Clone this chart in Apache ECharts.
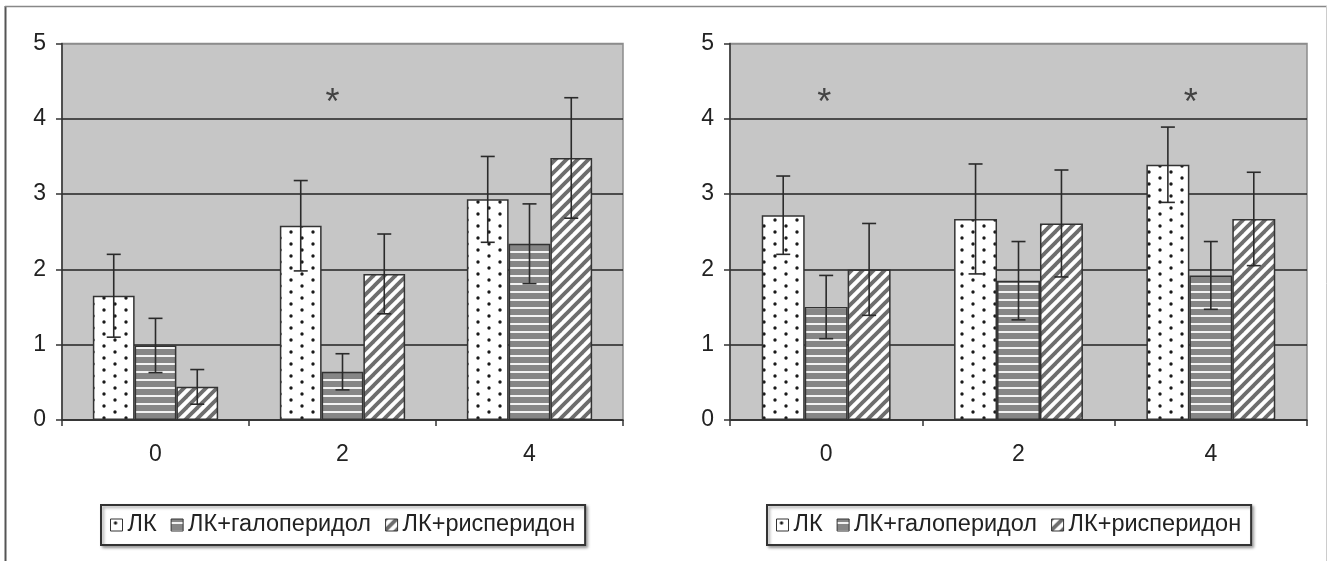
<!DOCTYPE html>
<html><head><meta charset="utf-8">
<script src="https://cdn.jsdelivr.net/npm/echarts@6/dist/echarts.min.js"></script>
<style>html,body{margin:0;padding:0;background:#fff}#c{width:1328px;height:561px}</style>
</head><body><div id="c"></div>
<script>
// ---------- data ----------
const categories = ['0', '2', '4'];
const seriesNames = ['ЛК', 'ЛК+галоперидол', 'ЛК+рисперидон'];
const yTicks = [0, 1, 2, 3, 4, 5];

// left panel
const leftLK = [1.65, 2.58, 2.93];
const leftHalo = [0.99, 0.64, 2.34];
const leftRisp = [0.44, 1.94, 3.48];
const leftLKErr = [0.55, 0.60, 0.57];
const leftHaloErr = [0.36, 0.24, 0.53];
const leftRispErr = [0.23, 0.53, 0.80];
const leftStars = [['2', 4.31]];

// right panel
const rightLK = [2.72, 2.67, 3.39];
const rightHalo = [1.50, 1.85, 1.92];
const rightRisp = [2.00, 2.61, 2.67];
const rightLKErr = [0.52, 0.73, 0.50];
const rightHaloErr = [0.42, 0.52, 0.45];
const rightRispErr = [0.61, 0.71, 0.62];
const rightStars = [['0', 4.31], ['4', 4.31]];

// ---------- styling ----------
const FONT = 'Liberation Sans, Arial, sans-serif';
const GAP = 0.33;
const leftStarShift = [-10];
const rightStarShift = [-2, -20];

function dotPattern() {
  const c = document.createElement('canvas'); c.width = 22; c.height = 12;
  const g = c.getContext('2d');
  g.fillStyle = '#fff'; g.fillRect(0, 0, 22, 12);
  g.fillStyle = '#1a1a1a';
  g.beginPath(); g.arc(5, 4, 1.7, 0, Math.PI * 2); g.fill();
  g.beginPath(); g.arc(16, 10, 1.7, 0, Math.PI * 2); g.fill();
  return c;
}
function hLinePattern() {
  const c = document.createElement('canvas'); c.width = 8; c.height = 8;
  const g = c.getContext('2d');
  g.fillStyle = '#868686'; g.fillRect(0, 0, 8, 8);
  g.fillStyle = '#f2f2f2'; g.fillRect(0, 3, 8, 2);
  return c;
}
function diagPattern() {
  const s = 11;
  const c = document.createElement('canvas'); c.width = s; c.height = s;
  const g = c.getContext('2d');
  g.fillStyle = '#fff'; g.fillRect(0, 0, s, s);
  g.strokeStyle = '#6e6e6e'; g.lineWidth = 3.8;
  for (const o of [-s, 0, s]) {
    g.beginPath(); g.moveTo(o - 2, s + 2); g.lineTo(o + s + 2, -2); g.stroke();
  }
  return c;
}
const fills = [
  { image: dotPattern(), repeat: 'repeat' },
  { image: hLinePattern(), repeat: 'repeat' },
  { image: diagPattern(), repeat: 'repeat' }
];

function barSeries(name, axis, vals, k) {
  return {
    type: 'bar', name, xAxisIndex: axis, yAxisIndex: axis, data: vals,
    barGap: '0%', barCategoryGap: (GAP * 100) + '%',
    itemStyle: { color: fills[k], borderColor: '#333', borderWidth: 1.5 },
    emphasis: { disabled: true }, z: 2
  };
}
function errSeries(axis, vals, errs, k) {
  return {
    type: 'custom', name: 'err' + axis + k, xAxisIndex: axis, yAxisIndex: axis, z: 10,
    encode: { x: 0, y: [1, 2] },
    data: vals.map((v, i) => [i, v - errs[i], v + errs[i]]),
    renderItem(params, api) {
      const band = api.size([1, 0])[0];
      const bw = band * (1 - GAP) / 3;
      const cx = api.coord([api.value(0), 0])[0] + (k - 1) * bw;
      const lo = api.coord([api.value(0), api.value(1)])[1];
      const hi = api.coord([api.value(0), api.value(2)])[1];
      const hw = 7;
      const st = { stroke: '#2a2a2a', lineWidth: 1.6 };
      return { type: 'group', children: [
        { type: 'line', shape: { x1: cx, y1: hi, x2: cx, y2: lo }, style: st },
        { type: 'line', shape: { x1: cx - hw, y1: hi, x2: cx + hw, y2: hi }, style: st },
        { type: 'line', shape: { x1: cx - hw, y1: lo, x2: cx + hw, y2: lo }, style: st }
      ] };
    }
  };
}
function starSeries(axis, stars, shifts) {
  return {
    type: 'scatter', xAxisIndex: axis, yAxisIndex: axis, symbolSize: 1,
    itemStyle: { color: 'rgba(0,0,0,0)' }, z: 12, silent: true,
    data: stars.map((s, i) => ({ value: s, label: { offset: [shifts[i], 9] } })),
    label: { show: true, position: 'inside', formatter: '*', fontSize: 36,
             fontFamily: FONT, color: '#222' }
  };
}
function xAxis(gi) {
  return {
    type: 'category', gridIndex: gi, data: categories,
    axisLine: { lineStyle: { color: '#333', width: 1.5 } },
    axisTick: { show: true, length: 6, lineStyle: { color: '#333', width: 1.5 } },
    axisLabel: { fontSize: 23, fontFamily: FONT, color: '#222', margin: 23 }
  };
}
function yAxis(gi) {
  return {
    type: 'value', gridIndex: gi, min: yTicks[0], max: yTicks[yTicks.length - 1], interval: 1,
    axisLine: { show: true, lineStyle: { color: '#333', width: 1.5 } },
    axisTick: { show: true, length: 6, lineStyle: { color: '#333', width: 1.5 } },
    axisLabel: { fontSize: 23, fontFamily: FONT, color: '#222', margin: 16 },
    splitLine: { show: true, lineStyle: { color: ['#222', '#222', '#222', '#222', '#222', '#8c8c8c'], width: 1.5 } }
  };
}
function legend(left) {
  return {
    data: seriesNames, left, top: 505, orient: 'horizontal', icon: 'rect',
    padding: [8, 10, 8, 9], itemWidth: 12, itemHeight: 12, itemGap: 14,
    borderColor: '#333', borderWidth: 2,
    shadowColor: 'rgba(0,0,0,0.35)', shadowOffsetX: 2, shadowOffsetY: 2, shadowBlur: 3,
    backgroundColor: '#fff', selectedMode: false,
    itemStyle: { borderColor: '#333', borderWidth: 1 },
    textStyle: { fontSize: 23.5, fontFamily: FONT, color: '#222' }
  };
}

const chart = echarts.init(document.getElementById('c'), null, { renderer: 'canvas' });
chart.setOption({
  animation: false,
  backgroundColor: '#fff',
  grid: [
    { left: 62, top: 43.5, width: 561, height: 376.5, show: true, backgroundColor: '#c6c6c6', borderColor: '#8c8c8c', borderWidth: 1.5 },
    { left: 730, top: 43.5, width: 577, height: 376.5, show: true, backgroundColor: '#c6c6c6', borderColor: '#8c8c8c', borderWidth: 1.5 }
  ],
  xAxis: [xAxis(0), xAxis(1)],
  yAxis: [yAxis(0), yAxis(1)],
  legend: [legend(101), legend(767)],
  graphic: [
    { type: 'line', shape: { x1: 5.5, y1: 6, x2: 5.5, y2: 561 }, style: { stroke: '#555', lineWidth: 2 } },
    { type: 'line', shape: { x1: 5, y1: 6.5, x2: 1327, y2: 6.5 }, style: { stroke: '#888', lineWidth: 1.5 } },
    { type: 'line', shape: { x1: 1326.5, y1: 6, x2: 1326.5, y2: 561 }, style: { stroke: '#ccc', lineWidth: 1 } }
  ],
  series: [
    barSeries(seriesNames[0], 0, leftLK, 0),
    barSeries(seriesNames[1], 0, leftHalo, 1),
    barSeries(seriesNames[2], 0, leftRisp, 2),
    barSeries(seriesNames[0], 1, rightLK, 0),
    barSeries(seriesNames[1], 1, rightHalo, 1),
    barSeries(seriesNames[2], 1, rightRisp, 2),
    errSeries(0, leftLK, leftLKErr, 0),
    errSeries(0, leftHalo, leftHaloErr, 1),
    errSeries(0, leftRisp, leftRispErr, 2),
    errSeries(1, rightLK, rightLKErr, 0),
    errSeries(1, rightHalo, rightHaloErr, 1),
    errSeries(1, rightRisp, rightRispErr, 2),
    starSeries(0, leftStars, leftStarShift),
    starSeries(1, rightStars, rightStarShift)
  ]
});
</script></body></html>
